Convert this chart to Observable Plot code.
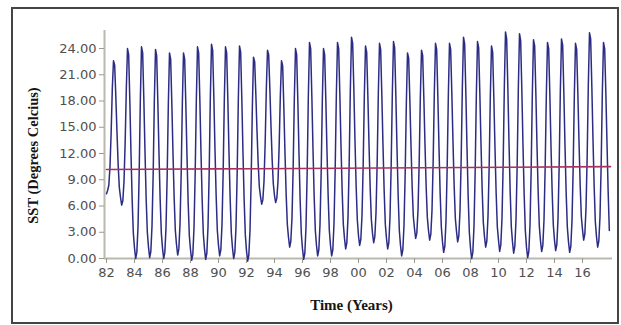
<!DOCTYPE html>
<html>
<head>
<meta charset="utf-8">
<script src="https://cdn.jsdelivr.net/npm/d3@7"></script>
<script src="https://cdn.jsdelivr.net/npm/@observablehq/plot@0.6"></script>
<style>
  html, body { margin: 0; padding: 0; background: #fff; }
  #wrap { position: relative; width: 621px; height: 325px; overflow: hidden; }
  #box { position: absolute; left: 11px; top: 7px; width: 608px; height: 317px;
         box-sizing: border-box; border: 2px solid #454545; pointer-events: none; }
</style>
</head>
<body>
<div id="wrap"><div id="box"></div></div>
<script>
// Monthly SST (°C), Jan..Dec, one row per year starting 1982
const startYear = 1982;
const sstByYear = [
  [7.4, 7.8, 8.4, 10.5, 14.5, 19.5, 22.6, 22.1, 18.5, 14.4, 10.7, 8.1],
  [7.0, 6.1, 6.6, 8.8, 13.3, 19.5, 24.0, 23.3, 18.0, 12.0, 6.7, 2.9],
  [1.2, 0.0, 0.7, 3.6, 9.7, 18.1, 24.2, 23.5, 18.2, 12.2, 6.8, 3.0],
  [1.3, 0.1, 0.8, 3.7, 9.6, 18.0, 23.9, 23.2, 17.9, 12.0, 6.7, 2.9],
  [1.2, 0.0, 0.7, 3.5, 9.4, 17.6, 23.5, 22.8, 17.7, 12.0, 6.9, 3.2],
  [1.6, 0.4, 1.1, 3.9, 9.6, 17.7, 23.5, 22.8, 17.6, 11.7, 6.4, 2.6],
  [1.0, -0.2, 0.5, 3.5, 9.6, 18.1, 24.2, 23.5, 18.2, 12.1, 6.7, 2.8],
  [1.1, -0.1, 0.6, 3.6, 9.7, 18.4, 24.5, 23.8, 18.5, 12.4, 7.1, 3.2],
  [1.5, 0.3, 1.0, 3.9, 9.9, 18.2, 24.2, 23.5, 18.2, 12.1, 6.8, 2.9],
  [1.2, 0.0, 0.7, 3.6, 9.7, 18.2, 24.3, 23.6, 18.2, 12.0, 6.6, 2.7],
  [0.9, -0.3, 0.4, 3.2, 9.0, 17.2, 23.0, 22.5, 18.8, 14.6, 10.9, 8.2],
  [7.1, 6.2, 6.7, 8.8, 13.2, 19.4, 23.8, 23.3, 19.5, 15.1, 11.3, 8.5],
  [7.2, 6.4, 6.9, 8.8, 12.9, 18.6, 22.6, 22.0, 17.3, 12.0, 7.3, 3.9],
  [2.4, 1.3, 2.0, 4.7, 10.4, 18.3, 24.0, 23.3, 18.0, 12.0, 6.6, 2.8],
  [1.1, -0.1, 0.6, 3.6, 9.8, 18.5, 24.7, 24.0, 18.6, 12.5, 7.1, 3.2],
  [1.5, 0.3, 1.0, 3.9, 9.8, 18.1, 24.0, 23.3, 18.1, 12.2, 7.1, 3.2],
  [1.5, 0.3, 1.0, 4.0, 10.1, 18.6, 24.7, 24.0, 18.8, 12.9, 7.7, 3.9],
  [2.3, 1.1, 1.8, 4.7, 10.8, 19.3, 25.3, 24.6, 19.4, 13.4, 8.2, 4.4],
  [2.6, 1.5, 2.2, 4.9, 10.6, 18.6, 24.3, 23.6, 18.7, 13.1, 8.1, 4.5],
  [2.9, 1.8, 2.5, 5.2, 10.9, 18.9, 24.6, 23.9, 18.7, 12.9, 7.7, 3.9],
  [2.3, 1.1, 1.8, 4.7, 10.6, 18.9, 24.8, 24.1, 18.7, 12.6, 7.2, 3.2],
  [1.5, 0.3, 1.0, 3.8, 9.6, 17.7, 23.5, 22.9, 18.2, 12.9, 8.2, 4.8],
  [3.4, 2.3, 2.9, 5.5, 10.9, 18.4, 23.8, 23.2, 18.4, 13.0, 8.2, 4.7],
  [3.2, 2.1, 2.8, 5.5, 11.1, 19.0, 24.6, 23.9, 18.6, 12.7, 7.4, 3.6],
  [1.9, 0.7, 1.4, 4.3, 10.3, 18.6, 24.6, 23.9, 18.9, 13.3, 8.3, 4.6],
  [3.1, 1.9, 2.6, 5.4, 11.3, 19.5, 25.3, 24.5, 19.0, 12.7, 7.1, 3.0],
  [1.2, 0.0, 0.7, 3.7, 9.9, 18.6, 24.8, 24.1, 18.9, 13.1, 7.9, 4.1],
  [2.5, 1.3, 2.0, 4.8, 10.5, 18.6, 24.3, 23.6, 18.4, 12.6, 7.4, 3.6],
  [2.1, 0.8, 1.6, 4.6, 10.8, 19.6, 25.9, 25.1, 19.6, 13.3, 7.7, 3.6],
  [1.9, 0.6, 1.4, 4.4, 10.6, 19.4, 25.7, 24.9, 19.3, 12.9, 7.3, 3.2],
  [1.3, 0.1, 0.8, 3.8, 10.1, 18.8, 25.0, 24.3, 19.0, 12.9, 7.6, 3.7],
  [2.0, 0.8, 1.5, 4.4, 10.4, 18.7, 24.7, 24.0, 18.8, 12.8, 7.6, 3.8],
  [2.1, 0.9, 1.6, 4.5, 10.6, 19.1, 25.1, 24.4, 19.0, 12.9, 7.5, 3.6],
  [1.9, 0.7, 1.4, 4.3, 10.3, 18.6, 24.6, 23.9, 19.0, 13.4, 8.4, 4.8],
  [3.3, 2.1, 2.8, 5.7, 11.6, 19.9, 25.8, 25.1, 19.7, 13.6, 8.2, 4.2],
  [2.5, 1.3, 2.0, 4.8, 10.7, 18.9, 24.7, 24.0, 19.0, 13.2, 7.6, 3.2]
];
// Linear trend line endpoints (year, °C)
const trendX = [1982, 2018];
const trendY = [10.17, 10.5];
// Axis ticks
const xTicks = [1982, 1984, 1986, 1988, 1990, 1992, 1994, 1996, 1998, 2000, 2002, 2004, 2006, 2008, 2010, 2012, 2014, 2016];
const yTicks = [0, 3, 6, 9, 12, 15, 18, 21, 24];
const xDomain = [1981.857, 2018.143];
const yDomain = [0, 26.06];

const data = [];
sstByYear.forEach((row, i) => row.forEach((v, m) => data.push({t: startYear + i + m / 12, v})));
const trend = trendX.map((t, i) => ({t, v: trendY[i]}));

const chart = Plot.plot({
  width: 621,
  height: 325,
  marginLeft: 104,
  marginRight: 9,
  marginTop: 30,
  marginBottom: 67,
  style: {fontFamily: "DejaVu Sans", fontSize: "13px", color: "#505050", background: "transparent", overflow: "visible"},
  x: {domain: xDomain, label: null},
  y: {domain: yDomain, label: null},
  marks: [
    Plot.ruleY([0], {stroke: "#b9b9ad", strokeWidth: 2}),
    Plot.ruleX([xDomain[0]], {stroke: "#b9b9ad", strokeWidth: 2}),
    Plot.lineY(data, {x: "t", y: "v", stroke: "#2c2c84", strokeWidth: 1.5, clip: false}),
    Plot.line(trend, {x: "t", y: "v", stroke: "#a8325a", strokeWidth: 1.6}),
    Plot.axisX({ticks: xTicks, tickFormat: d => String(d % 100).padStart(2, "0"), tickSize: 5, tickPadding: 4, label: null, stroke: "#9a9a90"}),
    Plot.axisY({ticks: yTicks, tickFormat: d => d.toFixed(2), tickSize: 5, tickPadding: 3, label: null, stroke: "#9a9a90"}),
    Plot.text(["SST (Degrees Celcius)"], {frameAnchor: "left", textAnchor: "middle", dx: -71, dy: 11, rotate: -90,
      fontFamily: "Liberation Serif", fontWeight: "bold", fontSize: 14.5, fill: "#151515"}),
    Plot.text(["Time (Years)"], {frameAnchor: "bottom", textAnchor: "middle", dx: -7, dy: 51,
      fontFamily: "Liberation Serif", fontWeight: "bold", fontSize: 15, fill: "#151515"})
  ]
});
document.getElementById("wrap").prepend(chart);
</script>
</body>
</html>
